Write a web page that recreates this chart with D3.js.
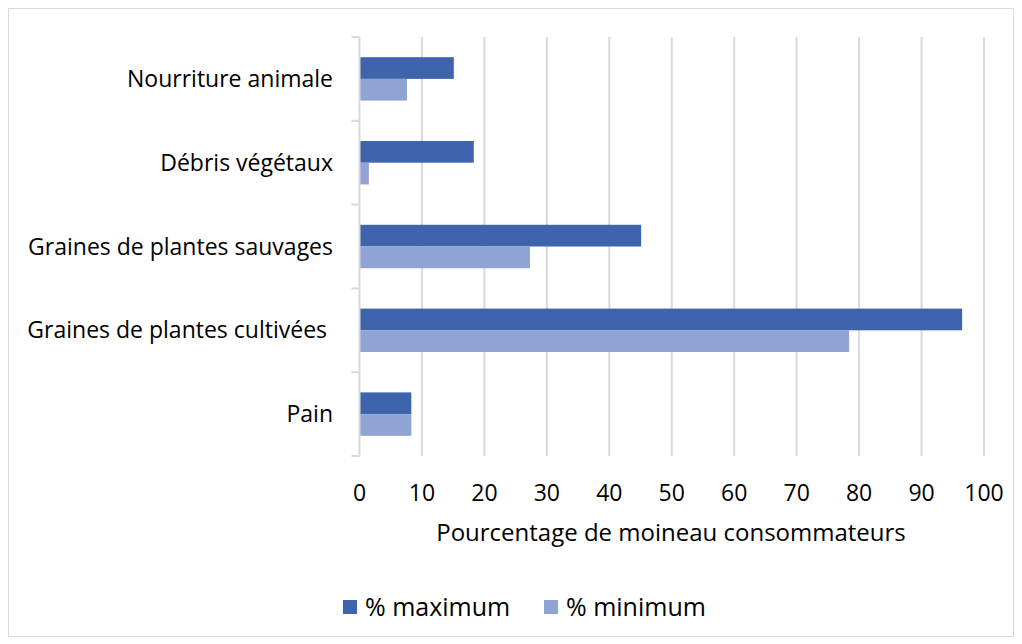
<!DOCTYPE html>
<html>
<head>
<meta charset="utf-8">
<script src="https://cdn.jsdelivr.net/npm/d3@7"></script>
<style>
  body { margin: 0; background: #fff; }
  text { font-family: "Open Sans", "Noto Sans", sans-serif; fill: #000; }
</style>
</head>
<body>
<svg id="chart" width="1022" height="644"></svg>
<script>
// categories from top to bottom
const categories = ["Nourriture animale", "Débris végétaux", "Graines de plantes sauvages", "Graines de plantes cultivées ", "Pain"];
const seriesNames = ["% maximum", "% minimum"];
const maxValues = [15.1, 18.3, 45.1, 96.5, 8.3];
const minValues = [7.6, 1.5, 27.3, 78.4, 8.3];
const xTicks = [0, 10, 20, 30, 40, 50, 60, 70, 80, 90, 100];
const colors = ["#3d64ad", "#8fa3d5"];

const svg = d3.select("#chart");
const plotLeft = 359.5, plotRight = 984, plotTop = 37, plotBottom = 456;

// outer frame
svg.append("rect")
  .attr("x", 8.5).attr("y", 8.5)
  .attr("width", 1005).attr("height", 628)
  .attr("fill", "#fff").attr("stroke", "#d9d9d9").attr("stroke-width", 1);

const x = d3.scaleLinear().domain([0, 100]).range([plotLeft, plotRight]);
const y = d3.scaleBand().domain(categories).range([plotTop, plotBottom])
  .paddingInner(0.482).paddingOuter(0.241);
const ySub = d3.scaleBand().domain(seriesNames).range([0, y.bandwidth()]);

// gridlines
svg.append("g").selectAll("line")
  .data(xTicks.slice(1))
  .enter().append("line")
  .attr("x1", d => x(d)).attr("x2", d => x(d))
  .attr("y1", plotTop).attr("y2", plotBottom)
  .attr("stroke", "#d9d9d9").attr("stroke-width", 2);

// bars
const rows = categories.map((c, i) => ({cat: c, vals: [maxValues[i], minValues[i]]}));
const groups = svg.append("g").selectAll("g")
  .data(rows)
  .enter().append("g")
  .attr("transform", d => `translate(0,${y(d.cat)})`);
groups.selectAll("rect")
  .data(d => d.vals.map((v, k) => ({name: seriesNames[k], v: v, k: k})))
  .enter().append("rect")
  .attr("x", x(0))
  .attr("y", d => ySub(d.name))
  .attr("width", d => x(d.v) - x(0))
  .attr("height", ySub.bandwidth())
  .attr("fill", d => colors[d.k]);

// y axis line and ticks at band boundaries
const step = y.step();
const bounds = d3.range(categories.length + 1).map(i => plotTop + i * step);
svg.append("line")
  .attr("x1", plotLeft).attr("x2", plotLeft)
  .attr("y1", plotTop).attr("y2", plotBottom)
  .attr("stroke", "#d9d9d9").attr("stroke-width", 2);
svg.append("g").selectAll("line")
  .data(bounds)
  .enter().append("line")
  .attr("x1", plotLeft - 8).attr("x2", plotLeft)
  .attr("y1", d => d).attr("y2", d => d)
  .attr("stroke", "#d9d9d9").attr("stroke-width", 2);

// category labels
svg.append("g").selectAll("text")
  .data(categories)
  .enter().append("text")
  .attr("x", 333)
  .attr("y", d => y(d) + y.bandwidth() / 2)
  .attr("dy", "0.35em")
  .attr("text-anchor", "end")
  .style("white-space", "pre")
  .style("font-size", "23px")
  .text(d => d);

// x tick labels
svg.append("g").selectAll("text")
  .data(xTicks)
  .enter().append("text")
  .attr("x", d => x(d))
  .attr("y", 493)
  .attr("dy", "0.35em")
  .attr("text-anchor", "middle")
  .style("font-size", "23px")
  .text(d => d);

// axis title
svg.append("text")
  .attr("x", 671).attr("y", 533)
  .attr("dy", "0.35em")
  .attr("text-anchor", "middle")
  .style("font-size", "24px")
  .text("Pourcentage de moineau consommateurs");

// legend
const legendX = [343, 544];
const legend = svg.append("g").selectAll("g")
  .data(seriesNames)
  .enter().append("g")
  .attr("transform", (d, i) => `translate(${legendX[i]},600)`);
legend.append("rect")
  .attr("width", 14).attr("height", 14)
  .attr("fill", (d, i) => colors[i]);
legend.append("text")
  .attr("x", 22).attr("y", 7)
  .attr("dy", "0.35em")
  .style("font-size", "25px")
  .text(d => d);
</script>
</body>
</html>
